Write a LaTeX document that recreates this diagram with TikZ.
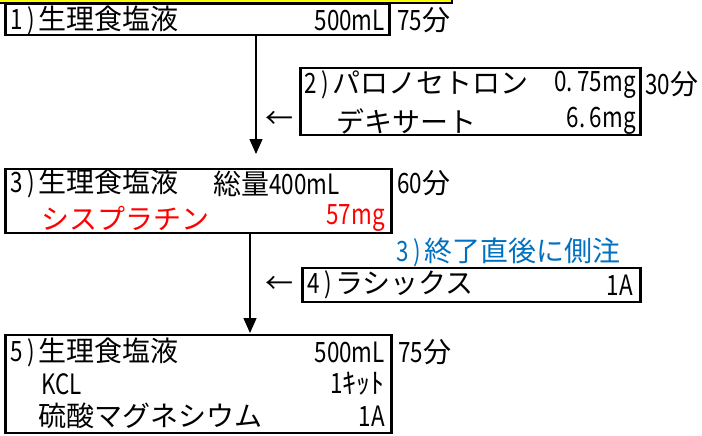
\documentclass[tikz,border=0pt]{standalone}
\usepackage{fontspec}
\setmainfont{Noto Sans CJK JP}
\newfontfamily\hw[FakeStretch=0.8]{Noto Sans CJK JP}
\newcommand\ordmark[1]{\makebox[28pt][s]{\hw #1\hspace{3pt}\hfill)\hspace{3pt}}}
\usetikzlibrary{arrows.meta}
\definecolor{memoblue}{RGB}{0,112,192}
\definecolor{alertred}{RGB}{255,0,0}
\definecolor{titleyellow}{RGB}{255,255,0}
\begin{document}
\begin{tikzpicture}[x=1pt,y=-1pt,
  box/.style={draw,line width=2.6pt,outer sep=0pt,inner sep=0pt,anchor=north west},
  txt/.style={inner sep=0pt,font=\fontsize{28}{30}\selectfont},
  lt/.style={txt,anchor=west},
  rt/.style={txt,anchor=east},
  flow/.style={line width=1.4pt,-{Triangle[width=13pt,length=15pt]}}]
\useasboundingbox (0,0) rectangle (702,436);
% cropped title bar at the top
\fill[titleyellow] (0,0) rectangle (452,3);
\draw[line width=2.6pt] (0,3) -- (452,3) -- (452,0);
% boxes
\node[box,minimum width=384pt,minimum height=31.5pt] (b1) at (5.5,3.5) {};
\node[box,minimum width=340pt,minimum height=67pt] (b2) at (300.5,68) {};
\node[box,minimum width=386pt,minimum height=64pt] (b3) at (5.5,169) {};
\node[box,minimum width=338pt,minimum height=34pt] (b4) at (302.5,268) {};
\node[box,minimum width=386pt,minimum height=98pt] (b5) at (5.5,335) {};
% box 1
\node[lt] (t1a) at (10,20) {\ordmark{1}生理食塩液};
\node[rt] (t1b) at (385,20) {\hw 500mL};
\node[lt] (m1) at (397,20) {{\hw 75}分};
% box 2
\node[lt] (t2a) at (304,84.5) {\ordmark{2}パロノセトロン};
\node[rt] (t2b) at (636,84.5) {\hw 0.\,75mg};
\node[lt] (t2c) at (336,121) {デキサート};
\node[rt] (t2d) at (636,121) {\hw 6.\,6mg};
\node[lt] (m2) at (645,84.5) {{\hw 30}分};
% box 3
\node[lt] (t3a) at (10,183.5) {\ordmark{3}生理食塩液};
\node[lt] (t3b) at (213,183.5) {総量{\hw 400mL}};
\node[lt,text=alertred] (t3c) at (41,218) {シスプラチン};
\node[rt,text=alertred] (t3d) at (385,218) {\hw 57mg};
\node[lt] (m3) at (397,183.5) {{\hw 60}分};
% note and box 4
\node[lt,text=memoblue] (note) at (396,252.5) {\ordmark{3}終了直後に側注};
\node[lt] (t4a) at (307,285) {\ordmark{4}ラシックス};
\node[rt] (t4b) at (633,285) {\hw 1A};
% box 5
\node[lt] (t5a) at (10,352) {\ordmark{5}生理食塩液};
\node[rt] (t5b) at (385,352) {\hw 500mL};
\node[lt] (t5c) at (41,384) {\hw KCL};
\node[rt] (t5d) at (385,384) {{\hw 1}ｷｯﾄ};
\node[lt] (t5e) at (38,416) {硫酸マグネシウム};
\node[rt] (t5f) at (385,416) {\hw 1A};
\node[lt] (m5) at (398,352) {{\hw 75}分};
% side arrows
\node[rt] (ar1) at (294,120) {←};
\node[rt] (ar2) at (294,285) {←};
% flow arrows
\coordinate (x1) at (256,0);
\coordinate (x2) at (250,0);
\draw[flow,shorten >=15pt] (b1.south -| x1) -- (b3.north -| x1);
\draw[flow,shorten >=2pt] (b3.south -| x2) -- (b5.north -| x2);
\end{tikzpicture}
\end{document}
